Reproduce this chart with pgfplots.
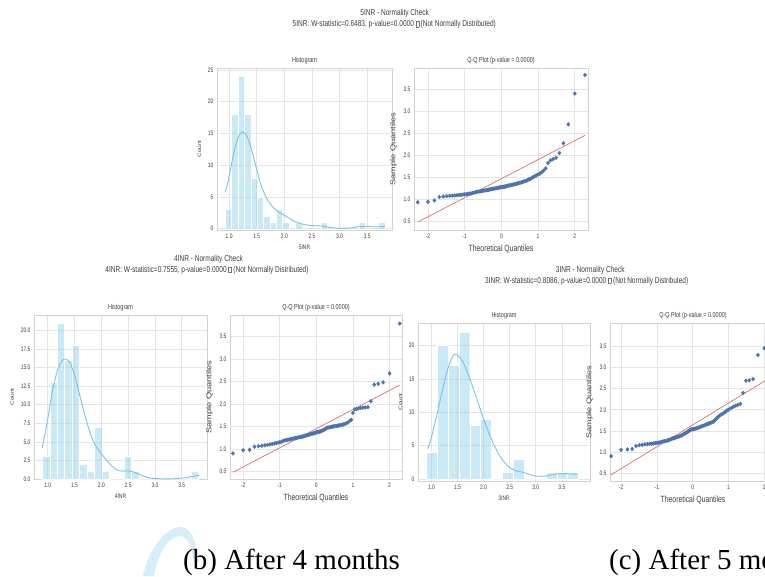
\documentclass[border=0pt]{standalone}
\usepackage{fontspec}
\setmainfont{Liberation Sans}
\newfontfamily\cond{Liberation Sans}[FakeStretch=0.76]
\newfontfamily\capfont{Liberation Serif}
\usepackage{graphicx}
\usepackage{pgfplots}
\usepackage{pgfplotstable}
\pgfplotsset{compat=1.18}

\definecolor{sky}{RGB}{135,206,235}
\definecolor{skyline}{RGB}{120,196,228}
\definecolor{qqblue}{RGB}{76,114,176}
\definecolor{qqred}{RGB}{220,110,110}
\definecolor{gridc}{RGB}{228,228,228}
\definecolor{framec}{RGB}{210,210,210}
\definecolor{txt}{RGB}{60,60,60}
\definecolor{wm}{RGB}{214,238,248}

\newcommand\tofu{{\color{black!55}\setlength\fboxsep{0pt}\setlength\fboxrule{0.25pt}\fbox{\rule{0pt}{5pt}\hspace{2.6pt}}}}

% sorted samples of the three series against the normal quantiles
\pgfplotstableread{
z s1 s2 s3
-2.278 0.93 0.90 0.90
-2.001 0.94 0.97 1.05
-1.824 0.97 0.98 1.06
-1.690 1.05 1.05 1.07
-1.582 1.06 1.06 1.14
-1.490 1.07 1.07 1.16
-1.408 1.075 1.08 1.17
-1.335 1.08 1.09 1.18
-1.269 1.085 1.10 1.185
-1.208 1.09 1.11 1.19
-1.150 1.095 1.12 1.195
-1.097 1.10 1.13 1.20
-1.046 1.105 1.14 1.21
-0.998 1.11 1.15 1.215
-0.952 1.115 1.16 1.22
-0.909 1.12 1.175 1.23
-0.866 1.125 1.19 1.24
-0.826 1.13 1.195 1.25
-0.786 1.14 1.20 1.255
-0.748 1.15 1.21 1.26
-0.711 1.155 1.215 1.27
-0.674 1.165 1.22 1.28
-0.639 1.17 1.23 1.29
-0.605 1.175 1.235 1.30
-0.571 1.18 1.24 1.32
-0.538 1.185 1.245 1.325
-0.505 1.19 1.25 1.33
-0.473 1.195 1.26 1.34
-0.441 1.20 1.265 1.35
-0.410 1.205 1.27 1.36
-0.379 1.21 1.275 1.37
-0.349 1.215 1.28 1.38
-0.319 1.22 1.29 1.39
-0.289 1.225 1.295 1.40
-0.259 1.23 1.30 1.42
-0.230 1.235 1.31 1.43
-0.201 1.24 1.315 1.45
-0.172 1.245 1.33 1.46
-0.143 1.25 1.335 1.48
-0.114 1.255 1.34 1.49
-0.086 1.26 1.345 1.51
-0.057 1.265 1.35 1.53
-0.028 1.27 1.36 1.535
0.000 1.272 1.37 1.538
0.028 1.275 1.375 1.54
0.057 1.28 1.38 1.55
0.086 1.285 1.385 1.555
0.114 1.29 1.39 1.56
0.143 1.295 1.40 1.57
0.172 1.30 1.41 1.58
0.201 1.31 1.42 1.59
0.230 1.315 1.44 1.60
0.259 1.32 1.45 1.61
0.289 1.325 1.47 1.62
0.319 1.33 1.475 1.63
0.349 1.34 1.48 1.64
0.379 1.345 1.485 1.65
0.410 1.35 1.49 1.66
0.441 1.36 1.495 1.67
0.473 1.365 1.50 1.68
0.505 1.37 1.505 1.69
0.538 1.38 1.51 1.70
0.571 1.39 1.515 1.715
0.605 1.40 1.52 1.74
0.639 1.41 1.525 1.77
0.674 1.42 1.53 1.80
0.711 1.43 1.54 1.83
0.748 1.45 1.55 1.86
0.786 1.46 1.56 1.88
0.826 1.48 1.575 1.90
0.866 1.50 1.59 1.92
0.909 1.52 1.62 1.95
0.952 1.54 1.65 1.98
0.998 1.56 1.80 2.00
1.046 1.58 1.88 2.03
1.097 1.61 1.89 2.05
1.150 1.65 1.90 2.08
1.208 1.70 1.91 2.10
1.269 1.82 1.92 2.12
1.335 1.88 1.92 2.14
1.408 1.91 1.93 2.40
1.490 1.94 2.06 2.69
1.582 2.05 2.43 2.70
1.690 2.27 2.45 2.73
1.824 2.70 2.48 3.30
2.001 3.40 2.68 3.46
2.278 3.82 3.79 3.78
}\qq

\pgfplotsset{
  snsbase/.style={
    scale only axis, anchor=south west,
    axis line style={framec, line width=0.5pt},
    grid=major, major grid style={gridc, line width=0.6pt},
    major tick length=0pt, tick style={draw=none},
    /pgf/number format/assume math mode=true,
    ticklabel style={font=\cond\fontsize{6.5}{7}\selectfont, text=txt},
    label style={text=txt},
    title style={font=\cond\fontsize{7.2}{8}\selectfont, text=txt, yshift=-6pt},
  },
  hist/.style={snsbase,
    xtick={1,1.5,...,3.5},
    xticklabel style={/pgf/number format/fixed, /pgf/number format/fixed zerofill, /pgf/number format/precision=1},
    xlabel style={font=\cond\fontsize{6.5}{7}\selectfont},
    ylabel style={font=\fontsize{6.5}{7}\selectfont},
    ylabel={\scalebox{1}[0.76]{Count}}, title=Histogram},
  qq/.style={snsbase,
    xtick={-2,-1,0,1,2}, ytick={0.5,1,...,3.5},
    yticklabel style={/pgf/number format/fixed, /pgf/number format/fixed zerofill, /pgf/number format/precision=1},
    xlabel style={font=\cond\fontsize{9}{10}\selectfont},
    ylabel style={font=\fontsize{9.2}{10}\selectfont},
    xlabel=Theoretical Quantiles, ylabel={\scalebox{1}[0.76]{Sample Quantiles}},
    title={Q-Q Plot (p-value = 0.0000)}},
  bars/.style={ybar interval, fill=sky, fill opacity=0.45, draw=white, line width=0.4pt},
  kde/.style={skyline, line width=0.9pt, smooth},
  pts/.style={only marks, mark=*, mark size=1.9pt, mark options={xscale=0.85}, qqblue},
  fit/.style={qqred, line width=0.7pt},
}

\begin{document}
\begin{tikzpicture}
\useasboundingbox (0,0) rectangle (765pt,576pt);
\clip (0,0) rectangle (765pt,576pt);

% watermark swoosh
\fill[wm] (143pt,0pt) .. controls (148pt,25pt) and (165pt,49pt) .. (181pt,49pt)
  .. controls (192pt,49pt) and (197pt,30pt) .. (199pt,14pt)
  -- (194pt,14pt) .. controls (192pt,28pt) and (188pt,40pt) .. (180pt,40pt)
  .. controls (168pt,40pt) and (157pt,20pt) .. (154pt,0pt) -- cycle;

% titles
\begin{scope}[every node/.style={font=\cond\fontsize{8.6}{9.5}\selectfont, text=txt, inner sep=0}]
\node at (394.7pt,562.7pt) {5INR - Normality Check};
\node at (394.3pt,551.7pt) {5INR: W-statistic=0.6483, p-value=0.0000 \tofu{} (Not Normally Distributed)};
\node at (208.5pt,317pt) {4INR - Normality Check};
\node at (207pt,306pt) {4INR: W-statistic=0.7555, p-value=0.0000 \tofu{} (Not Normally Distributed)};
\node at (590.3pt,306pt) {3INR - Normality Check};
\node at (586.7pt,295pt) {3INR: W-statistic=0.8086, p-value=0.0000 \tofu{} (Not Normally Distributed)};
\end{scope}

% 5INR
\begin{axis}[hist, at={(217pt,346pt)}, width=175pt, height=162pt,
  xmin=0.78, xmax=3.95, ymin=-0.2, ymax=25.3, ytick={0,5,...,25}, xlabel=5INR]
\addplot[bars] coordinates {(0.930,3) (1.046,18) (1.161,24) (1.277,18) (1.392,8) (1.508,5) (1.624,2) (1.739,1) (1.855,3) (1.970,1) (2.086,0) (2.202,1) (2.317,0) (2.433,0) (2.549,0) (2.664,1) (2.780,0) (2.895,0) (3.011,0) (3.127,0) (3.242,0) (3.358,1) (3.473,0) (3.589,0) (3.704,1) (3.820,1)};
\addplot[kde] coordinates {(0.93,5.8) (0.97,7.0) (1.0,8.3) (1.05,10.5) (1.1,12.5) (1.15,14.0) (1.2,15.0) (1.25,15.2) (1.3,14.9) (1.35,14.0) (1.4,12.6) (1.45,11.0) (1.5,9.3) (1.55,7.7) (1.6,6.3) (1.7,4.5) (1.8,3.3) (1.9,2.6) (2.0,2.1) (2.1,1.6) (2.2,1.1) (2.3,0.8) (2.4,0.6) (2.5,0.5) (2.6,0.45) (2.7,0.4) (2.8,0.25) (2.9,0.12) (3.0,0.05) (3.1,0.05) (3.2,0.12) (3.3,0.25) (3.4,0.35) (3.5,0.35) (3.6,0.3) (3.7,0.3) (3.82,0.35)};
\end{axis}
\begin{axis}[qq, at={(414pt,346pt)}, width=174pt, height=162pt,
  xmin=-2.38, xmax=2.36, ymin=0.30, ymax=3.98]
\addplot[pts] table[x=z, y=s1] {\qq};
\addplot[fit] coordinates {(-2.278,0.48) (2.278,2.45)};
\end{axis}

% 4INR
\begin{axis}[hist, at={(34pt,97pt)}, width=173pt, height=164pt,
  xmin=0.745, xmax=3.97, ymin=0, ymax=22.05, ytick={0,2.5,...,20},
  yticklabel style={/pgf/number format/fixed, /pgf/number format/fixed zerofill, /pgf/number format/precision=1},
  xlabel=4INR]
\addplot[bars] coordinates {(0.900,3) (1.039,13) (1.177,21) (1.316,16) (1.454,18) (1.593,2) (1.732,1) (1.870,7) (2.009,1) (2.147,0) (2.286,0) (2.425,3) (2.563,1) (2.702,0) (2.840,0) (2.979,0) (3.118,0) (3.256,0) (3.395,0) (3.533,0) (3.672,1) (3.810,1)};
\addplot[kde] coordinates {(0.9,4.2) (1.0,8.0) (1.1,12.2) (1.2,15.0) (1.3,16.1) (1.4,15.8) (1.5,14.0) (1.6,11.2) (1.7,8.4) (1.8,6.0) (1.9,4.4) (2.0,3.4) (2.1,2.5) (2.2,1.7) (2.3,1.2) (2.4,1.05) (2.5,1.1) (2.6,0.95) (2.7,0.65) (2.8,0.35) (2.9,0.15) (3.0,0.06) (3.2,0.02) (3.4,0.05) (3.6,0.2) (3.7,0.35) (3.82,0.5)};
\end{axis}
\begin{axis}[qq, at={(230pt,97pt)}, width=172pt, height=164pt,
  xmin=-2.36, xmax=2.34, ymin=0.33, ymax=3.98]
\addplot[pts] table[x=z, y=s2] {\qq};
\addplot[fit] coordinates {(-2.278,0.48) (2.278,2.42)};
\end{axis}

% 3INR
\begin{axis}[hist, at={(418pt,95pt)}, width=172pt, height=158pt,
  xmin=0.742, xmax=4.04, ymin=-0.3, ymax=23.4, ytick={0,5,...,20}, xlabel=3INR]
\addplot[bars] coordinates {(0.900,4) (1.109,20) (1.317,17) (1.526,22) (1.734,8) (1.943,9) (2.151,0) (2.360,1) (2.569,3) (2.777,0) (2.986,0) (3.194,1) (3.403,1) (3.611,1) (3.820,1)};
\addplot[kde] coordinates {(0.93,4.5) (1.0,6.3) (1.1,9.5) (1.2,13.0) (1.3,16.2) (1.4,18.3) (1.45,18.7) (1.5,18.6) (1.6,17.6) (1.7,15.8) (1.8,13.6) (1.9,11.3) (2.0,9.0) (2.1,6.9) (2.2,5.1) (2.3,3.6) (2.4,2.5) (2.5,1.7) (2.6,1.3) (2.7,1.1) (2.8,0.9) (2.9,0.65) (3.0,0.45) (3.1,0.4) (3.2,0.45) (3.3,0.6) (3.4,0.75) (3.5,0.8) (3.6,0.8) (3.7,0.75) (3.8,0.7)};
\end{axis}
\begin{axis}[qq, at={(610pt,95pt)}, width=166pt, height=158pt,
  xmin=-2.31, xmax=2.33, ymin=0.31, ymax=4.06]
\addplot[pts] table[x=z, y=s3] {\qq};
\addplot[fit] coordinates {(-2.278,0.46) (2.278,2.82)};
\end{axis}

% captions
\node[anchor=base west, inner sep=0, font=\capfont\fontsize{29}{32}\selectfont] at (183pt,7pt) {(b) After 4 months};
\node[anchor=base west, inner sep=0, font=\capfont\fontsize{29}{32}\selectfont] at (609pt,7pt) {(c) After 5 months};
\end{tikzpicture}
\end{document}
